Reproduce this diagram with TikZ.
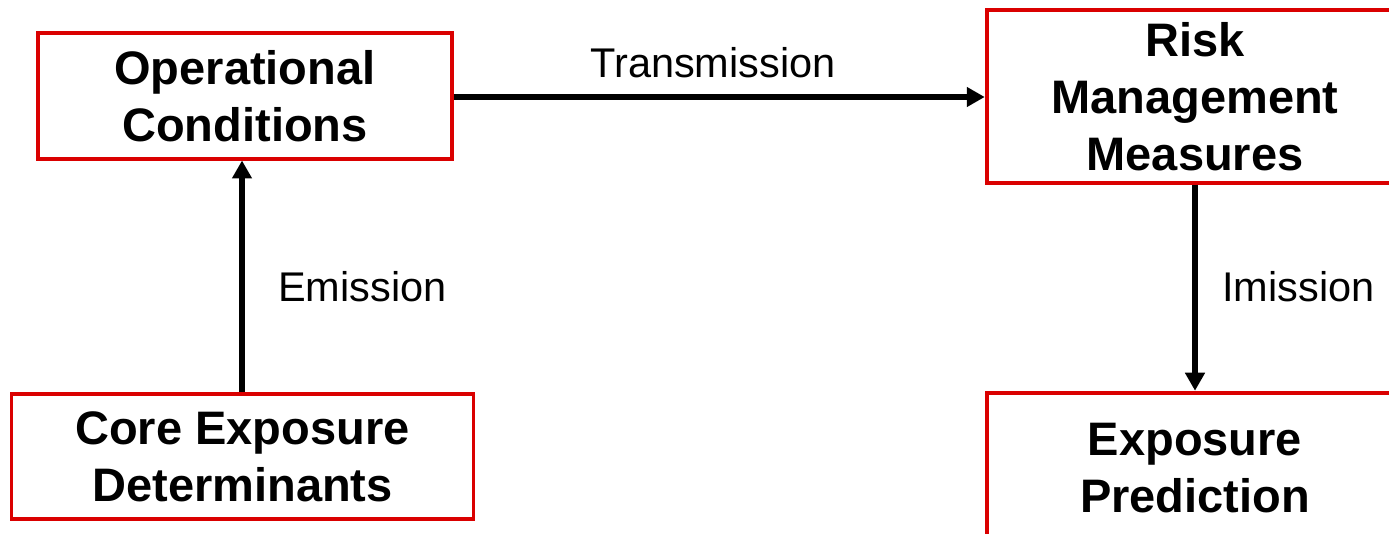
\documentclass[tikz,border=0pt]{standalone}
\usepackage{fontspec}
\setmainfont{Liberation Sans}
\usetikzlibrary{arrows.meta}
\definecolor{boxred}{RGB}{218,0,0}
\tikzset{
  box/.style={draw=boxred, line width=3.5pt, fill=white, inner sep=0pt, align=center,
    font=\fontsize{47}{57}\selectfont\bfseries},
  lbl/.style={inner sep=0pt, font=\fontsize{41.5}{50}\selectfont},
  conn/.style={line width=5.5pt, -{Triangle[width=19pt,length=18pt]}, shorten >=0.5pt}
}
\begin{document}
\begin{tikzpicture}[x=1pt,y=-1pt]
\useasboundingbox (0,0) rectangle (1389,534);
\clip (0,0) rectangle (1389,534);
\fill[white] (0,0) rectangle (1389,534);
\node[box, minimum width=414pt, minimum height=126pt] (oc) at (245,96) {Operational\\Conditions};
\node[box, minimum width=462pt, minimum height=125pt] (ced) at (242.5,456.5) {Core Exposure\\Determinants};
\node[box, minimum width=416pt, minimum height=173pt] (rmm) at (1195,96.5) {Risk\\Management\\Measures};
\node[box, minimum width=416pt, minimum height=170pt, text depth=0pt] (ep) at (1195,478) {};
\node[inner sep=0pt, align=center, font=\fontsize{47}{57}\selectfont\bfseries] (eptext) at (1195,468) {Exposure\\Prediction};
\draw[conn] (ced.north -| 242,0) -- (242,160) coordinate (octarget);
\draw[conn] (oc.east |- 0,97) -- (rmm.west |- 0,97);
\draw[conn] (rmm.south) -- (ep.north);
\node[lbl, anchor=base] (tl) at (713,78) {Transmission};
\node[lbl, anchor=west] (el) at (278,287) {Emission};
\node[lbl, anchor=west] (il) at (1222,287) {Imission};
\end{tikzpicture}
\end{document}
